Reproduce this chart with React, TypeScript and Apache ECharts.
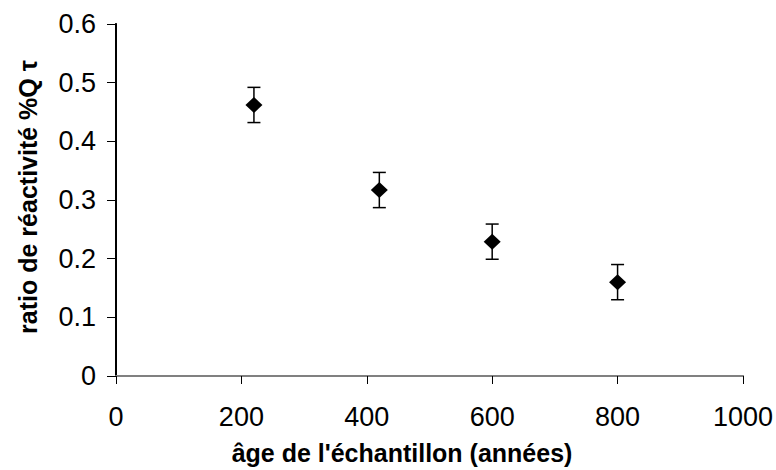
import React, { useEffect, useRef } from "react";
import * as echarts from "echarts";

const ages = [220, 420, 600, 800];
const ratios = [0.462, 0.317, 0.229, 0.16];
const errors = [0.03, 0.03, 0.03, 0.03];
const xTitle = "âge de l'échantillon (années)";
const yTitle = "ratio de réactivité %Q τ";

const FONT = "'Liberation Sans', Arial, sans-serif";

export default function App() {
  const ref = useRef<HTMLDivElement>(null);
  useEffect(() => {
    if (!ref.current) return;
    const chart = echarts.init(ref.current, null, { renderer: "svg" });
    const errData = ages.map((a, i) => [a, ratios[i] - errors[i], ratios[i] + errors[i]]);
    chart.setOption({
      animation: false,
      backgroundColor: "#ffffff",
      grid: { left: 116, right: 32, top: 24, bottom: 94 },
      xAxis: [
        {
          type: "value",
          min: 0,
          max: 1000,
          interval: 200,
          position: "bottom",
          axisLine: { show: true, onZero: false, lineStyle: { color: "#000", width: 1.5 } },
          axisTick: { show: true, inside: false, length: 8, lineStyle: { color: "#000", width: 1 } },
          axisLabel: {
            color: "#000",
            fontSize: 27,
            fontFamily: FONT,
            margin: 27,
            formatter: (v: number) => String(v),
          },
          splitLine: { show: false },
        },
        {
          type: "value",
          min: 0,
          max: 1000,
          position: "top",
          axisLine: { show: true, lineStyle: { color: "#808080", width: 2 } },
          axisTick: { show: false },
          axisLabel: { show: false },
          splitLine: { show: false },
        },
      ],
      yAxis: [
        {
          type: "value",
          min: 0,
          max: 0.6,
          interval: 0.1,
          position: "left",
          axisLine: { show: true, onZero: false, lineStyle: { color: "#000", width: 2 } },
          axisTick: { show: true, inside: false, length: 9, lineStyle: { color: "#000", width: 1 } },
          axisLabel: {
            color: "#000",
            fontSize: 27,
            fontFamily: FONT,
            margin: 20,
            formatter: (v: number) => String(Math.round(v * 10) / 10),
          },
          splitLine: { show: false },
        },
        {
          type: "value",
          min: 0,
          max: 0.6,
          position: "right",
          axisLine: { show: true, lineStyle: { color: "#000", width: 1.5 } },
          axisTick: { show: false },
          axisLabel: { show: false },
          splitLine: { show: false },
        },
      ],
      series: [
        {
          type: "custom",
          xAxisIndex: 0,
          yAxisIndex: 0,
          data: errData,
          renderItem: (params: any, api: any) => {
            const x = api.value(0);
            const lo = api.coord([x, api.value(1)]);
            const hi = api.coord([x, api.value(2)]);
            const cap = 6.5;
            const style = { stroke: "#000", lineWidth: 1.5 };
            return {
              type: "group",
              children: [
                { type: "line", shape: { x1: lo[0], y1: lo[1], x2: hi[0], y2: hi[1] }, style },
                { type: "line", shape: { x1: hi[0] - cap, y1: hi[1], x2: hi[0] + cap, y2: hi[1] }, style },
                { type: "line", shape: { x1: lo[0] - cap, y1: lo[1], x2: lo[0] + cap, y2: lo[1] }, style },
              ],
            };
          },
          z: 2,
        },
        {
          type: "scatter",
          xAxisIndex: 0,
          yAxisIndex: 0,
          data: ages.map((a, i) => [a, ratios[i]]),
          symbol: "diamond",
          symbolSize: [17, 16],
          itemStyle: { color: "#000", opacity: 1 },
          z: 3,
        },
      ],
      graphic: [
        {
          type: "text",
          x: 402,
          y: 453,
          style: {
            text: xTitle,
            fontSize: 25,
            fontWeight: "bold",
            fontFamily: FONT,
            fill: "#000",
            align: "center",
            verticalAlign: "middle",
          },
        },
        {
          type: "text",
          x: 28,
          y: 197,
          rotation: Math.PI / 2,
          style: {
            text: yTitle,
            fontSize: 25,
            fontWeight: "bold",
            fontFamily: FONT,
            fill: "#000",
            align: "center",
            verticalAlign: "middle",
          },
        },
      ],
    });
    return () => chart.dispose();
  }, []);
  return <div ref={ref} style={{ width: 776, height: 470, position: "absolute", left: 0, top: 0 }} />;
}
